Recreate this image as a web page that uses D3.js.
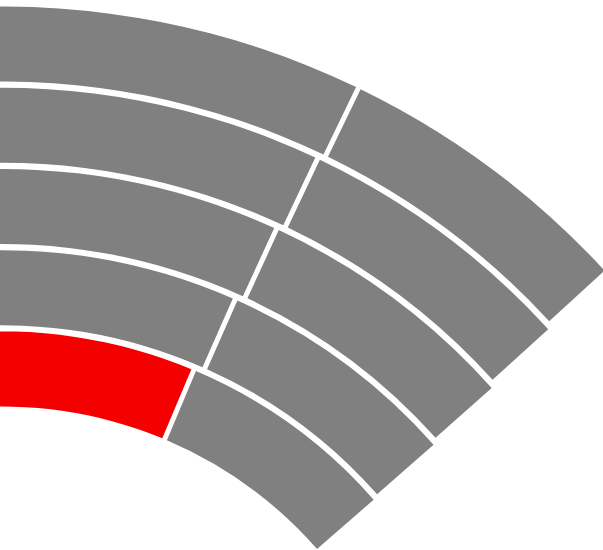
<!DOCTYPE html>
<html>
<head>
<meta charset="utf-8">
<script src="https://cdn.jsdelivr.net/npm/d3@7/dist/d3.min.js"></script>
<style>
  html, body { margin: 0; padding: 0; background: #ffffff; overflow: hidden; }
  svg { display: block; }
</style>
</head>
<body>
<svg id="chart" width="603" height="550"></svg>
<script>
// ---- data (rings listed from outermost to innermost) ----
const rings = ["R1", "R2", "R3", "R4", "R5"];
const seriesNames = ["first", "second"];
const firstValues = [64.32, 64.06, 63.72, 63.27, 62.67];
const secondValues = [12.07, 12.56, 13.17, 13.84, 14.56];
const highlightRing = "R5";
const highlightSeries = "first";

// ---- layout ----
const width = 603, height = 550;
const center = { x: 2, y: 826 };
const innerRadius = 419.5, outerRadius = 819.5;
const radialGap = 6.2;   // px between rings
const padWidth = 5;      // px between segments
const padRadius = 400;

const svg = d3.select("#chart")
  .attr("width", width)
  .attr("height", height);

svg.append("rect")
  .attr("width", width).attr("height", height)
  .attr("fill", "#ffffff");

const g = svg.append("g")
  .attr("transform", `translate(${center.x},${center.y})`);

// radius: innermost ring at the smallest radius
const stepPx = (outerRadius - innerRadius + radialGap) / rings.length;
const rScale = d3.scaleBand()
  .domain(rings.slice().reverse())
  .range([innerRadius, outerRadius])
  .paddingInner(radialGap / stepPx)
  .paddingOuter(0);

// angle: value scale over a half circle starting at 9 o'clock
const aScale = d3.scaleLinear()
  .domain([0, 100])
  .range([-Math.PI / 2, Math.PI / 2]);

const cells = [];
rings.forEach((ring, i) => {
  const v = [firstValues[i], secondValues[i]];
  let acc = 0;
  v.forEach((val, j) => {
    cells.push({ ring, series: seriesNames[j], x0: acc, x1: acc + val });
    acc += val;
  });
});

const arc = d3.arc()
  .innerRadius(d => rScale(d.ring))
  .outerRadius(d => rScale(d.ring) + rScale.bandwidth())
  .startAngle(d => aScale(d.x0))
  .endAngle(d => aScale(d.x1))
  .padRadius(padRadius)
  .padAngle(padWidth / padRadius);

g.selectAll("path.cell")
  .data(cells)
  .join("path")
  .attr("class", "cell")
  .attr("d", arc)
  .attr("fill", d => (d.ring === highlightRing && d.series === highlightSeries) ? "#f50000" : "#808080");
</script>
</body>
</html>
